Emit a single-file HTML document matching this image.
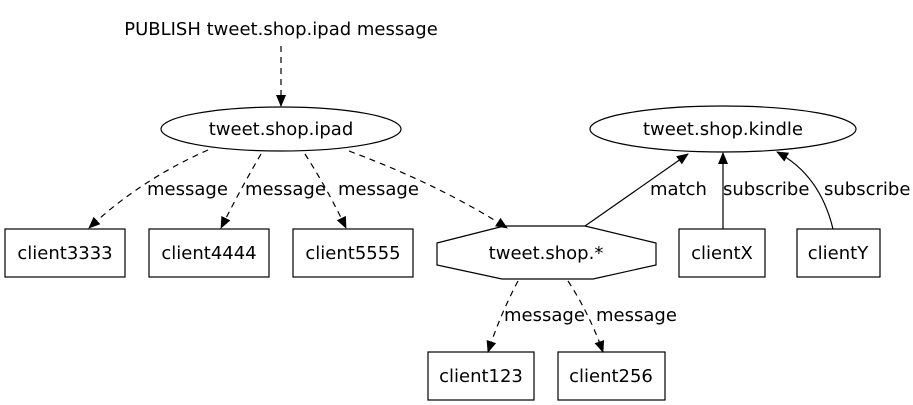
<!DOCTYPE html>
<html><head><meta charset="utf-8"><style>body{margin:0;background:#fff}svg{display:block}text{font-family:"DejaVu Sans","Liberation Sans",sans-serif;font-size:18px;fill:#000}</style></head>
<body>
<svg width="913" height="405" viewBox="0 0 913 405" xmlns="http://www.w3.org/2000/svg">
<defs><marker id="a" markerWidth="12" markerHeight="12" refX="11" refY="6" orient="auto" markerUnits="userSpaceOnUse"><path d="M0,1 L12,6 L0,11 Z" fill="#000"/></marker></defs>
<rect width="913" height="405" fill="#fff"/>
<text x="281" y="35" text-anchor="middle">PUBLISH tweet.shop.ipad message</text>
<g fill="none" stroke="#000" stroke-width="1.2">
<ellipse cx="281" cy="129" rx="120" ry="22"/>
<ellipse cx="723" cy="129" rx="133" ry="23"/>
<rect x="5" y="229" width="120" height="48"/>
<rect x="149" y="229" width="120" height="48"/>
<rect x="293" y="229" width="120" height="48"/>
<rect x="679" y="229" width="86" height="48"/>
<rect x="797" y="229" width="83" height="48"/>
<rect x="428" y="352" width="106" height="48"/>
<rect x="558" y="352" width="107" height="48"/>
<polygon points="437,243 504,226 585,226 656,243 656,265 593,279 502,279 437,265"/>
<g stroke-dasharray="6,5" marker-end="url(#a)">
<path d="M281,46 L281,106"/>
<path d="M208,150 Q140,180 89,228"/>
<path d="M261,154 Q240,190 221,228"/>
<path d="M305,154 Q328,190 346,228"/>
<path d="M349,151 Q440,185 507,228"/>
<path d="M518,281 Q500,315 488,352"/>
<path d="M568,281 Q590,315 603,352"/>
</g>
<g marker-end="url(#a)">
<path d="M585,226 L688,154"/>
<path d="M723,229 L723,153"/>
<path d="M833,229 Q820,175 777,152"/>
</g>
</g>
<text x="281" y="135" text-anchor="middle">tweet.shop.ipad</text>
<text x="723" y="135" text-anchor="middle">tweet.shop.kindle</text>
<text x="65" y="259" text-anchor="middle">client3333</text>
<text x="209" y="259" text-anchor="middle">client4444</text>
<text x="353" y="259" text-anchor="middle">client5555</text>
<text x="722" y="259" text-anchor="middle">clientX</text>
<text x="838" y="259" text-anchor="middle">clientY</text>
<text x="546" y="259" text-anchor="middle">tweet.shop.*</text>
<text x="481" y="382" text-anchor="middle">client123</text>
<text x="611" y="382" text-anchor="middle">client256</text>
<text x="147" y="195">message</text>
<text x="245" y="195">message</text>
<text x="338" y="195">message</text>
<text x="650" y="195">match</text>
<text x="723" y="195">subscribe</text>
<text x="824" y="195">subscribe</text>
<text x="504" y="321">message</text>
<text x="596" y="321">message</text>
</svg>
</body></html>
